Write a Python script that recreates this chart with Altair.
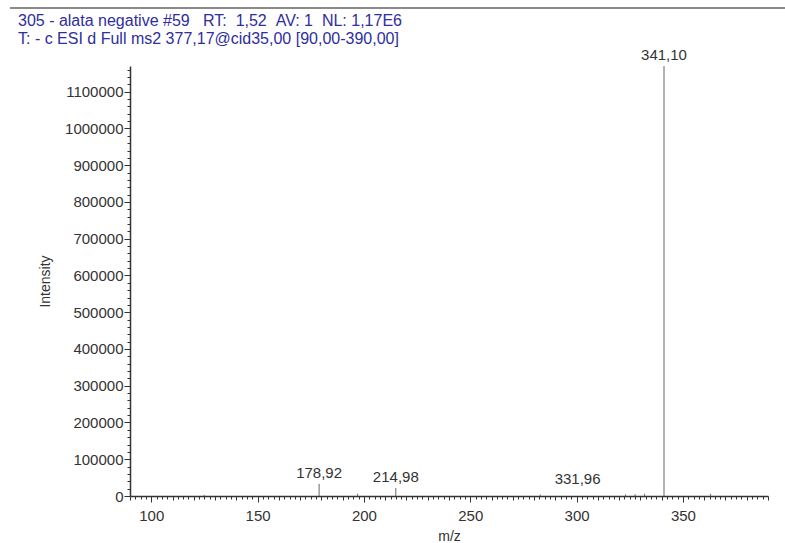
import altair as alt
import pandas as pd

# MS2 spectrum peaks (m/z, intensity)
mz = [124.9, 178.92, 197.0, 214.98, 282.9, 323.0, 327.5, 331.96, 341.10, 363.0]
intensity = [3000, 33000, 6000, 22000, 4000, 4000, 5000, 6000, 1170000, 6000]

# labelled peaks
label_mz = [178.92, 214.98, 341.10]
label_int = [33000, 22000, 1170000]
label_text = ["178,92", "214,98", "341,10"]

# the 331,96 label is displaced to the left of its peak
side_mz = [331.96]
side_int = [6000]
side_text = ["331,96"]

NB = "\u00a0"
header = [
    f"305 - alata negative #59{NB*3}RT:{NB*2}1,52{NB*2}AV:{NB}1{NB*2}NL:{NB}1,17E6",
    f"T:{NB}-{NB}c ESI d Full ms2 377,17@cid35,00 [90,00-390,00]",
]

x_ticks = [90 + 2.5 * i for i in range(121)]
y_ticks = [20000 * i for i in range(59)]

FONT = "Liberation Sans"
INK = "#333333"

peaks = pd.DataFrame({"mz": mz, "intensity": intensity})
labels = pd.DataFrame({"mz": label_mz, "intensity": label_int, "text": label_text})
side = pd.DataFrame({"mz": side_mz, "intensity": side_int, "text": side_text})

x_scale = alt.Scale(domain=[90, 390], nice=False, zero=False)
y_scale = alt.Scale(domain=[0, 1170000], nice=False)

x_axis = alt.Axis(
    title="m/z",
    values=x_ticks,
    tickCount=500,
    labelExpr="datum.value % 50 === 0 && datum.value >= 100 ? datum.value : ''",
    labelOverlap=False,
    tickSize={"condition": [{"test": "datum.value % 50 === 0", "value": 6},
                            {"test": "datum.value % 10 === 0", "value": 4}],
              "value": 3},
    grid=False,
    labelPadding=6,
    titlePadding=6,
)
y_axis = alt.Axis(
    title="Intensity",
    values=y_ticks,
    tickCount=500,
    labelExpr="datum.value % 100000 === 0 ? datum.value : ''",
    labelOverlap=False,
    tickSize={"condition": {"test": "datum.value % 100000 === 0", "value": 6},
              "value": 3},
    grid=False,
    labelPadding=1,
    titlePadding=12,
)

sticks = alt.Chart(peaks).mark_rule(color="#666666", strokeWidth=1).encode(
    x=alt.X("mz:Q", scale=x_scale, axis=x_axis),
    y=alt.Y("intensity:Q", scale=y_scale, axis=y_axis),
    y2=alt.datum(0),
)

peak_labels = alt.Chart(labels).mark_text(
    font=FONT, fontSize=15, color=INK, baseline="alphabetic", dy=-6
).encode(x="mz:Q", y="intensity:Q", text="text:N")

side_labels = alt.Chart(side).mark_text(
    font=FONT, fontSize=15, color=INK, baseline="alphabetic", dx=-67, dy=-10
).encode(x="mz:Q", y="intensity:Q", text="text:N")

one = alt.Data(values=[{"k": 0}])
top_rule = alt.Chart(one).mark_rule(color="#8a8a8a", strokeWidth=2).encode(
    x=alt.value(-120), x2=alt.value(655), y=alt.value(-58)
)
head1 = alt.Chart(one).mark_text(
    font=FONT, fontSize=16, color="#2e2e9e", align="left", baseline="alphabetic"
).encode(x=alt.value(-112), y=alt.value(-40), text=alt.value(header[0]))
head2 = alt.Chart(one).mark_text(
    font=FONT, fontSize=16, color="#2e2e9e", align="left", baseline="alphabetic"
).encode(x=alt.value(-112), y=alt.value(-22), text=alt.value(header[1]))

chart = (
    alt.layer(sticks, peak_labels, side_labels, top_rule, head1, head2)
    .properties(
        width=638,
        height=430,
        autosize=alt.AutoSizeParams(type="none"),
        padding={"left": 130, "top": 66, "right": 17, "bottom": 47},
        background="white",
    )
    .configure_view(stroke=None)
    .configure_axis(
        labelFont=FONT,
        labelFontSize=15,
        labelColor=INK,
        titleFont=FONT,
        titleFontSize=14,
        titleFontWeight="normal",
        titleColor=INK,
        domainColor=INK,
        tickColor=INK,
        domainWidth=1.5,
    )
)

chart.save("out.html", embed_options={"renderer": "svg", "actions": False})
